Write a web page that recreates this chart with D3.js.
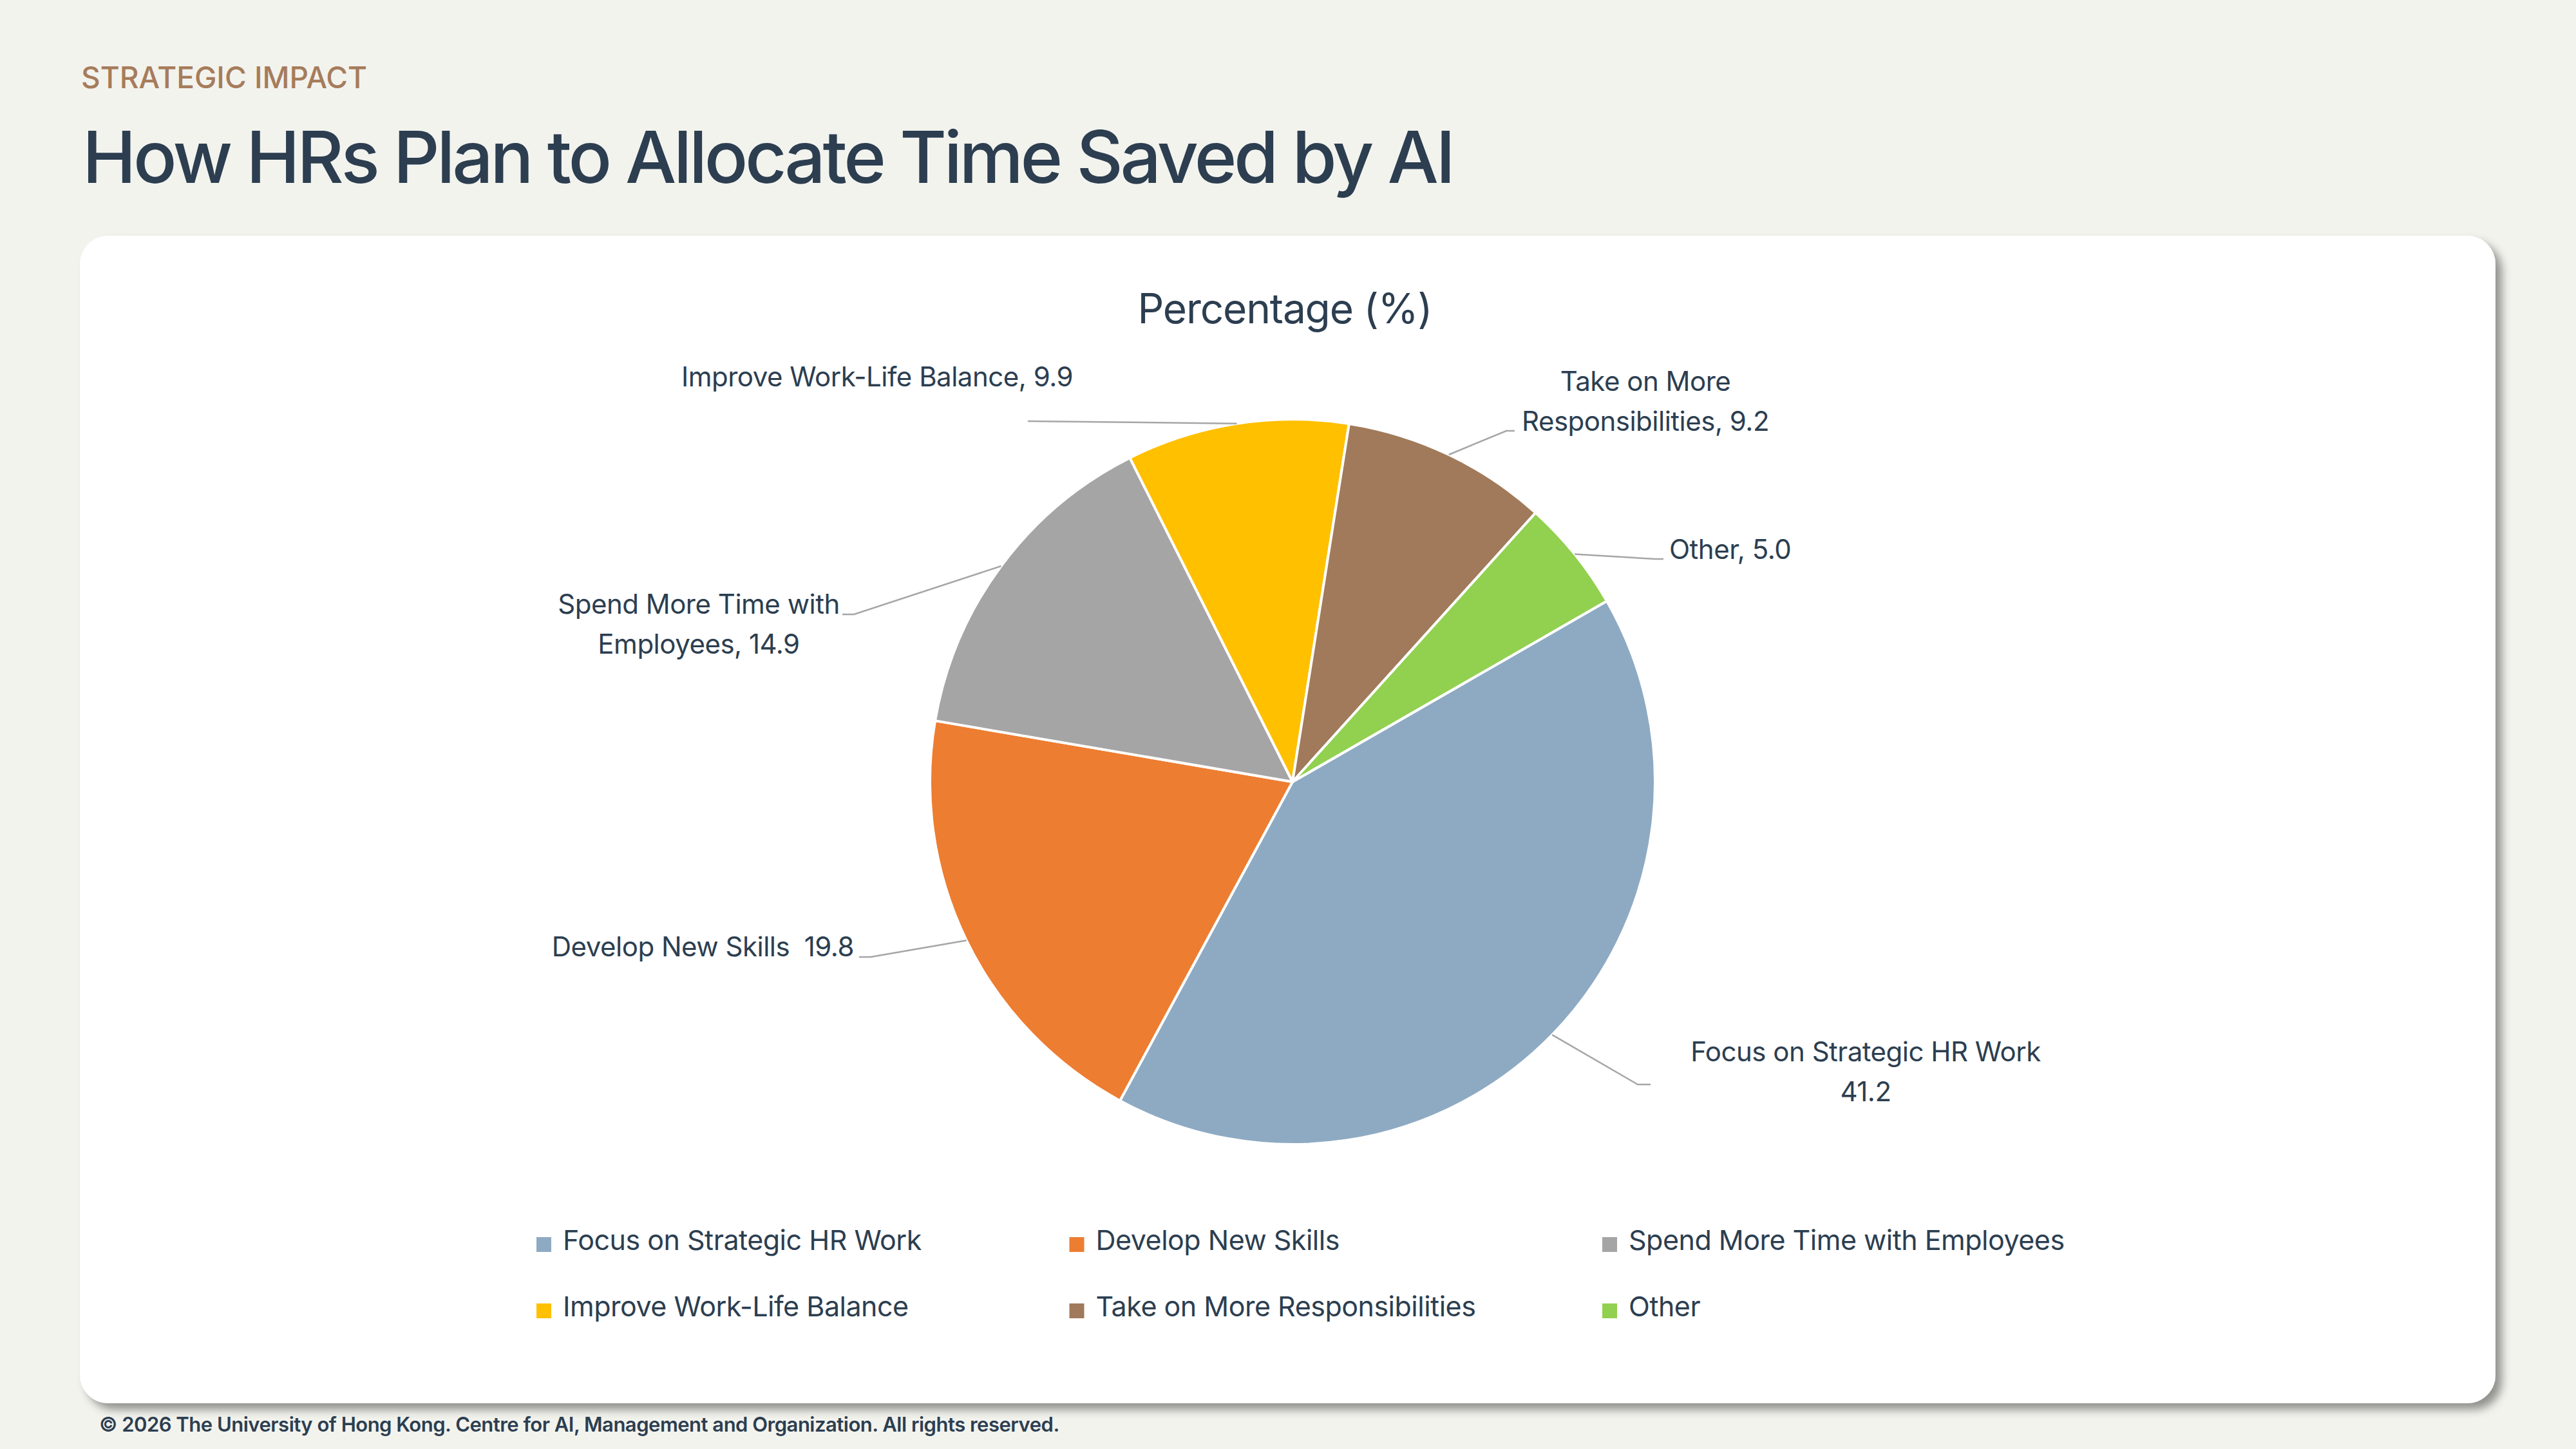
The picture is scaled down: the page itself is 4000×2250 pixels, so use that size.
<!DOCTYPE html>
<html>
<head>
<meta charset="utf-8">
<script src="https://cdn.jsdelivr.net/npm/d3@7"></script>
<style>
  html, body { margin: 0; padding: 0; background: #f3f3ee; }
  svg { display: block; font-family: Inter, "Noto Sans", sans-serif; }
</style>
</head>
<body>
<svg id="chart" width="4000" height="2250"></svg>
<script>
// data
const categories = ["Focus on Strategic HR Work", "Develop New Skills", "Spend More Time with Employees",
  "Improve Work-Life Balance", "Take on More Responsibilities", "Other"];
const values = [41.2, 19.8, 14.9, 9.9, 9.2, 5.0];
const colors = ["#8eaac3", "#ed7d31", "#a5a5a5", "#ffc000", "#a07a5a", "#92d050"];
// data label text as shown (line breaks per label)
const labelLines = [
  ["Focus on Strategic HR Work", "41.2"],
  ["Develop New Skills  19.8"],
  ["Spend More Time with", "Employees, 14.9"],
  ["Improve Work-Life Balance, 9.9"],
  ["Take on More", "Responsibilities, 9.2"],
  ["Other, 5.0"]
];

const W = 4000, H = 2250;
const textColor = "#2c3e50";
const svg = d3.select("#chart");

// drop shadow for card
const defs = svg.append("defs");
const f = defs.append("filter").attr("id", "shadow").attr("x", "-5%").attr("y", "-5%").attr("width", "110%").attr("height", "110%");
f.append("feDropShadow").attr("dx", 10).attr("dy", 10).attr("stdDeviation", 7)
  .attr("flood-color", "#000").attr("flood-opacity", 0.4);

svg.append("text")
  .attr("x", 126).attr("y", 137)
  .attr("font-size", 46).attr("fill", "#a67c5b").attr("font-weight", 500)
  .text("STRATEGIC IMPACT");

svg.append("text")
  .attr("x", 128).attr("y", 284)
  .attr("font-size", 112).attr("fill", textColor).attr("font-weight", 500)
  .attr("letter-spacing", -4.4)
  .text("How HRs Plan to Allocate Time Saved by AI");

svg.append("rect")
  .attr("x", 124).attr("y", 366).attr("width", 3751).attr("height", 1813)
  .attr("rx", 44).attr("fill", "#fff").attr("filter", "url(#shadow)");

svg.append("text")
  .attr("x", 154).attr("y", 2223)
  .attr("font-size", 31).attr("fill", textColor).attr("font-weight", 600)
  .attr("letter-spacing", -0.5)
  .text("\u00a9 2026 The University of Hong Kong. Centre for AI, Management and Organization. All rights reserved.");

svg.append("text")
  .attr("x", 1995).attr("y", 502).attr("text-anchor", "middle")
  .attr("font-size", 64).attr("fill", textColor).attr("letter-spacing", -1.2)
  .text("Percentage (%)");

// pie
const cx = 2007, cy = 1214, r = 563;
const pie = d3.pie().sort(null).value(d => d)
  .startAngle(60.1 * Math.PI / 180).endAngle(60.1 * Math.PI / 180 + 2 * Math.PI);
const arcs = pie(values);
const arc = d3.arc().innerRadius(0).outerRadius(r);
const edge = d3.arc().innerRadius(r).outerRadius(r);

const g = svg.append("g").attr("transform", `translate(${cx},${cy})`);
g.selectAll("path.slice").data(arcs).enter().append("path")
  .attr("class", "slice")
  .attr("d", arc)
  .attr("fill", (d, i) => colors[i])
  .attr("stroke", "#fff").attr("stroke-width", 4).attr("stroke-linejoin", "round");

// label placement relative to pie centre (text anchor, elbow and end of leader)
const labelLayout = [
  { x: 890, y: 434, anchor: "middle", elbow: [536, 470], end: [556, 470] },
  { x: -681, y: 271, anchor: "end", elbow: [-655, 272], end: [-673, 272] },
  { x: -922, y: -261, anchor: "middle", elbow: [-681, -260], end: [-699, -260] },
  { x: -341, y: -614, anchor: "end", elbow: [-411, -560], end: [-411, -560] },
  { x: 548, y: -607, anchor: "middle", elbow: [332, -545], end: [345, -545] },
  { x: 585, y: -346, anchor: "start", elbow: [563, -346], end: [576, -346] }
];
const lineGap = 62;

g.selectAll("polyline.leader").data(arcs).enter().append("polyline")
  .attr("class", "leader")
  .attr("points", (d, i) => [edge.centroid(d), labelLayout[i].elbow, labelLayout[i].end].map(p => p.join(",")).join(" "))
  .attr("fill", "none").attr("stroke", "#a6a6a6").attr("stroke-width", 2.5);

const lbl = g.selectAll("text.lbl").data(arcs).enter().append("text")
  .attr("class", "lbl")
  .attr("text-anchor", (d, i) => labelLayout[i].anchor)
  .attr("font-size", 42).attr("fill", textColor)
  .attr("letter-spacing", -0.5);
lbl.selectAll("tspan").data((d, i) => labelLines[i].map(t => ({ t, i }))).enter().append("tspan")
  .attr("x", d => labelLayout[d.i].x)
  .attr("y", (d, j) => labelLayout[d.i].y + j * lineGap)
  .style("white-space", "pre")
  .text(d => d.t);

// legend
const legendX = d3.scalePoint().domain([0, 1, 2]).range([833, 2488]);
const legendY = d3.scalePoint().domain([0, 1]).range([1941, 2044]);
const leg = svg.selectAll("g.legend").data(categories).enter().append("g")
  .attr("class", "legend")
  .attr("transform", (d, i) => `translate(${legendX(i % 3)},${legendY(Math.floor(i / 3))})`);
leg.append("rect").attr("x", 0).attr("y", -20).attr("width", 23).attr("height", 23)
  .attr("fill", (d, i) => colors[i]);
leg.append("text").attr("x", 41).attr("y", 0)
  .attr("font-size", 43).attr("fill", textColor).attr("letter-spacing", -0.5)
  .text(d => d);
</script>
</body>
</html>
